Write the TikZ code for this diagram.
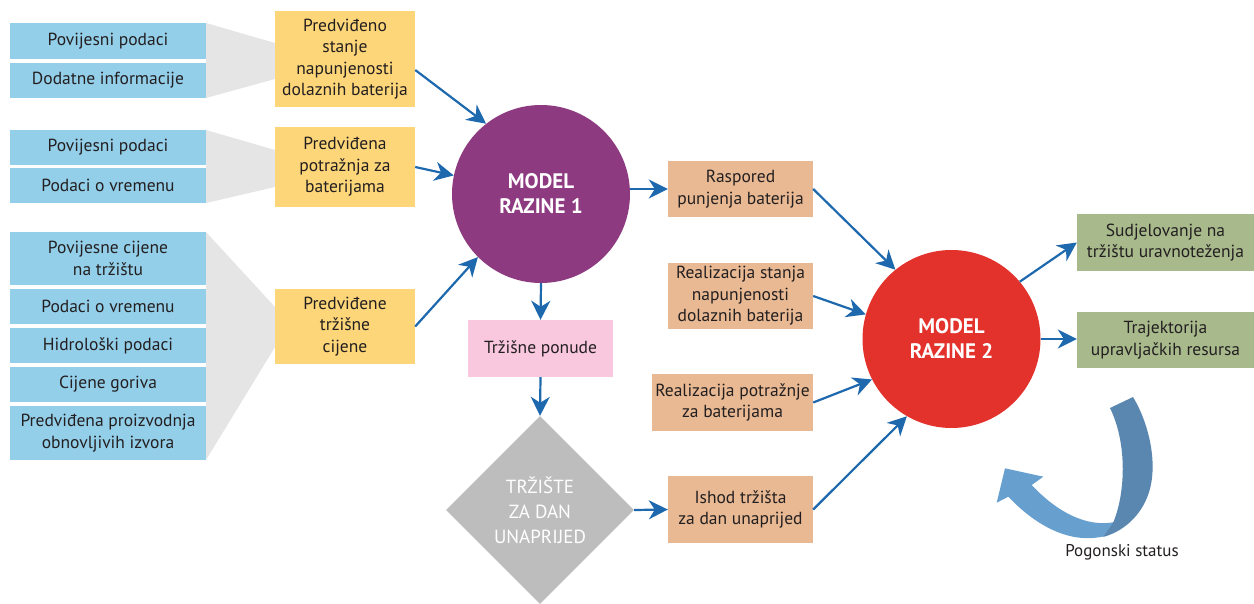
\documentclass[tikz,border=0pt]{standalone}
\usepackage{fontspec}
\setmainfont{PT Sans}
\usetikzlibrary{shapes.geometric,arrows.meta,calc}
\definecolor{skyb}{HTML}{94CFEA}
\definecolor{yel}{HTML}{FDD67A}
\definecolor{purp}{HTML}{8E3A80}
\definecolor{pinkb}{HTML}{F9C8DE}
\definecolor{greyd}{HTML}{BDBDBD}
\definecolor{orng}{HTML}{E8B993}
\definecolor{redc}{HTML}{E3312C}
\definecolor{grn}{HTML}{A8BA8C}
\definecolor{funnel}{HTML}{E6E5E6}
\definecolor{arrb}{HTML}{1E68AE}
\definecolor{txt}{HTML}{231F20}
\definecolor{darkband}{HTML}{5A87B0}
\definecolor{lightband}{HTML}{67A0CE}
\begin{document}
\begin{tikzpicture}[x=1pt,y=-1pt,
  box/.style={rectangle, inner sep=0pt, align=center, text=txt, font=\fontsize{17.5}{21.5}\selectfont},
  bluebox/.style={box, fill=skyb, minimum width=196pt, minimum height=35pt},
  yelbox/.style={box, fill=yel, minimum width=140pt},
  orbox/.style={box, fill=orng, minimum width=145pt},
  grbox/.style={box, fill=grn, minimum width=177pt},
  model/.style={circle, inner sep=0pt, minimum size=178pt, align=center, text=white, font=\bfseries\fontsize{21}{25}\selectfont},
  arr/.style={draw=arrb, line width=2.2pt, -{Stealth[length=19pt,width=19pt,inset=6pt]}}
]
\useasboundingbox (0,0) rectangle (1254,604);

% funnels
\fill[funnel] (206,23) -- (275,43) -- (275,79) -- (206,98) -- cycle;
\fill[funnel] (206,130) -- (275,150) -- (275,187) -- (206,203) -- cycle;
\fill[funnel] (206,232) -- (275,307) -- (275,347) -- (206,460) -- cycle;

% left inputs
\node[bluebox, minimum height=36pt] (b1) at (108,41) {Povijesni podaci};
\node[bluebox] (b2) at (108,80.5) {Dodatne informacije};
\node[bluebox] (b3) at (108,147.5) {Povijesni podaci};
\node[bluebox] (b4) at (108,185.5) {Podaci o vremenu};
\node[bluebox, minimum height=53pt] (b5) at (108,258.5) {Povijesne cijene\\na tržištu};
\node[bluebox] (b6) at (108,306.5) {Podaci o vremenu};
\node[bluebox] (b7) at (108,345.5) {Hidrološki podaci};
\node[bluebox] (b8) at (108,384.5) {Cijene goriva};
\node[bluebox, minimum height=54pt] (b9) at (108,433) {Predviđena proizvodnja\\obnovljivih izvora};

% forecasts
\node[yelbox, minimum height=96pt] (y1) at (345,59) {Predviđeno\\stanje\\napunjenosti\\dolaznih baterija};
\node[yelbox, minimum height=80pt] (y2) at (345,167) {Predviđena\\potražnja za\\baterijama};
\node[yelbox, minimum height=75pt] (y3) at (345,326.5) {Predviđene\\tržišne\\cijene};

% model 1
\node[model, fill=purp] (c1) at (541,194) {MODEL\\RAZINE 1};
\node[box, fill=pinkb, minimum width=145pt, minimum height=57pt] (p) at (540.5,348.5) {Tržišne ponude};
\node[diamond, aspect=1, inner sep=0pt, minimum width=188pt, minimum height=188pt, fill=greyd, align=center, text=white, font=\fontsize{19}{25}\selectfont] (d) at (540,510) {TRŽIŠTE\\ZA DAN\\UNAPRIJED};

% orange boxes
\node[orbox, minimum height=56pt] (o1) at (740.5,189) {Raspored\\punjenja baterija};
\node[orbox, minimum height=66pt] (o2) at (740.5,296) {Realizacija stanja\\napunjenosti\\dolaznih baterija};
\node[orbox, minimum width=161pt, minimum height=57pt] (o3) at (732.5,402.5) {Realizacija potražnje\\za baterijama};
\node[orbox, minimum height=67pt] (o4) at (740.5,509.5) {Ishod tržišta\\za dan unaprijed};

% model 2
\node[model, fill=redc] (c2) at (951.5,339) {MODEL\\RAZINE 2};
\node[grbox, minimum height=57pt] (g1) at (1165.5,242.5) {Sudjelovanje na\\tržištu uravnoteženja};
\node[grbox, minimum height=56pt] (g2) at (1165.5,340) {Trajektorija\\upravljačkih resursa};

% arrows
\draw[arr] ($(y1.east)+(0,11)$) -- (c1.128);
\draw[arr] (y2.east) -- (c1.168);
\draw[arr] (y3.east) -- (c1.225);
\draw[arr] (o1.west -| c1.east) -- (o1.west);
\draw[arr] (c1.south) -- (p.north);
\draw[arr] (p.south) -- (d.north);
\draw[arr] (d.east) -- (o4.west);
\draw[arr] (o1.east) -- (c2.129);
\draw[arr] (o2.east) -- (c2.164);
\draw[arr] (o3.east) -- (c2.207);
\draw[arr] (o4.east) -- (c2.240);
\draw[arr] (c2.40) -- (g1.west);
\draw[arr] (c2.east) -- (c2.east -| g2.west);

% curved status arrow
\fill[lightband] (1115,522) .. controls (1085,528) and (1055,510) .. (1031.7,485)
  -- (1043.3,476.7) -- (1005,468.3) -- (996.7,502.7) -- (1008.3,496.7)
  .. controls (1035,525) and (1070,545) .. (1105,536) -- cycle;
\fill[darkband] (1110,408) -- (1133,397) .. controls (1150,425) and (1160,470) .. (1146,500)
  .. controls (1138,518) and (1122,532) .. (1103,537) -- (1113,523)
  .. controls (1125,495) and (1128,445) .. (1110,408) -- cycle;
\node[text=txt, font=\fontsize{17}{20}\selectfont] (ps) at (1122,552) {Pogonski status};
\end{tikzpicture}
\end{document}
